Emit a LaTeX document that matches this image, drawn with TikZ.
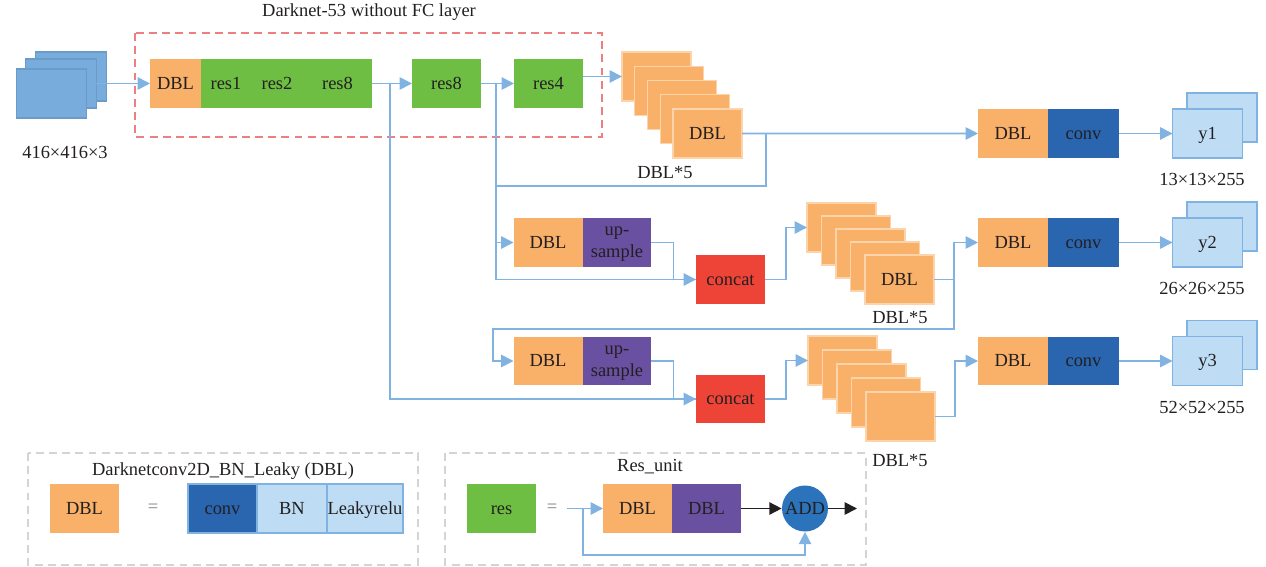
\documentclass[tikz,border=0pt]{standalone}
\usepackage{fontspec}
\setmainfont{Liberation Serif}
\usetikzlibrary{arrows.meta,positioning}
\definecolor{dblorange}{HTML}{F9B068}
\definecolor{resgreen}{HTML}{6EBE44}
\definecolor{uppurple}{HTML}{6A50A0}
\definecolor{catred}{HTML}{EE4437}
\definecolor{convblue}{HTML}{2A65B0}
\definecolor{paleblue}{HTML}{BEDDF4}
\definecolor{lineblue}{HTML}{80B3E2}
\definecolor{inblue}{HTML}{77ACDD}
\definecolor{dashred}{HTML}{EE7F80}
\definecolor{dashgray}{HTML}{D4D4D4}
\definecolor{addblue}{HTML}{2B73BA}
\definecolor{inkgray}{HTML}{231F20}

\begin{document}
\begin{tikzpicture}[x=0.02cm,y=-0.02cm,font=\fontsize{10.5}{12.5}\selectfont,text=inkgray,
  node distance=0pt,
  box/.style={inner sep=0pt,outer sep=0pt,minimum width=1.38cm,minimum height=0.98cm,
    text height=0.66em,text depth=0pt},
  dbl node/.style={box,fill=dblorange},
  res node/.style={box,fill=resgreen},
  up node/.style={box,fill=uppurple,align=center,text height=,text depth=0pt,
    font=\fontsize{10.5}{12.5}\selectfont},
  cat node/.style={box,fill=catred},
  conv node/.style={box,fill=convblue},
  pale node/.style={box,fill=paleblue,draw=lineblue,line width=0.8pt},
  in node/.style={box,fill=inblue,draw=inblue!90!black,line width=0.6pt,minimum width=1.41cm},
  layer node/.style={box,fill=dblorange,draw=dblorange!55!white,line width=0.8pt,anchor=north west},
  flow/.style={draw=lineblue,line width=0.9pt,-{Triangle[length=7pt,width=7pt]}},
  link/.style={draw=lineblue,line width=0.9pt},
  ink/.style={draw=inkgray,line width=0.9pt,-{Triangle[length=7pt,width=7pt]}},
  frame/.style={line width=0.8pt,dash pattern=on 4.5pt off 3pt}]

  \useasboundingbox (0,0) rectangle (1266,567);

  % input image
  \node[in node] (in3) at (71,76.5) {};
  \node[in node] (in2) at (61,83.5) {};
  \node[in node] (in1) at (51.5,93.5) {};
  \node (insize) at (65,152) {416×416×3};

  % backbone
  \draw[frame,dashred] (135,33) rectangle (602,137);
  \node (title) at (369,12) {Darknet-53 without FC layer};
  \node[dbl node,minimum width=1.02cm] (dbl0) at (175.5,83.5) {DBL};
  \node[res node,minimum width=1cm] (res1) [right=of dbl0] {res1};
  \node[res node,minimum width=1.04cm] (res2) [right=of res1] {res2};
  \node[res node] (res8a) [right=of res2] {res8};
  \node[res node] (res8b) at (446.5,83.5) {res8};
  \node[res node] (res4) at (548.5,83.5) {res4};

  % DBL*5 stacks
  \foreach \i in {1,...,5}{
    \node[layer node] (s1-\i) at ({622+12.75*(\i-1)},{52+14.25*(\i-1)}) {};
    \node[layer node] (s2-\i) at ({807+14.5*(\i-1)},{203+13*(\i-1)}) {};
    \node[layer node] (s3-\i) at ({808+14.5*(\i-1)},{336+14*(\i-1)}) {};
  }
  \node[box] (s1-txt) at (s1-5) {DBL};
  \node[box] (s2-txt) at (s2-5) {DBL};
  \node (s1-lbl) at (665,173) {DBL*5};
  \node (s2-lbl) at (900,318) {DBL*5};
  \node (s3-lbl) at (900,461) {DBL*5};

  % upsample branches
  \node[dbl node] (dblu1) at (548,242.5) {DBL};
  \node[up node] (up1) [right=of dblu1] {up-\\sample};
  \node[cat node] (cat1) at (730.5,279.5) {concat};
  \node[dbl node] (dblu2) at (548,361) {DBL};
  \node[up node] (up2) [right=of dblu2] {up-\\sample};
  \node[cat node] (cat2) at (730.5,399) {concat};

  % outputs
  \foreach \k/\yy/\sz in {1/133.5/13, 2/242.5/26, 3/361/52}{
    \node[dbl node,minimum width=1.4cm] (od\k) at (1013,\yy) {DBL};
    \node[conv node,minimum width=1.42cm] (conv\k) [right=of od\k] {conv};
    \node[pale node,minimum width=1.4cm] (yb\k) at (1222,\yy-16) {};
    \node[pale node,minimum width=1.4cm] (y\k) at (1207.5,\yy) {y\k};
    \node (ys\k) at (1202,\yy+46) {\sz×\sz×255};
  }

  % connectors
  \coordinate (ja) at (390,83.5);
  \coordinate (jb) at (496,83.5);
  \coordinate (jc) at (496,186);
  \coordinate (je) at (493,329);
  \draw[flow] (in2.east) -- (dbl0.west);
  \draw[flow] (res8a.east) -- (res8b.west);
  \draw[flow] (res8b.east) -- (res4.west);
  \draw[flow] (res4.east |- s1-1.west) -- (s1-1.west);
  \draw[flow] (ja) |- (cat2.west);
  \draw[flow] (jb) |- (cat1.west);
  \draw[flow] (jb |- dblu1.west) -- (dblu1.west);
  \draw[flow] (s1-5.east) -- (od1.west);
  \draw[link] (s1-5.east) -- ++(24,0) |- (jc);
  \draw[link] (up1.east) -- ++(22,0) |- (cat1.west);
  \draw[flow] (cat1.east) -- ++(21,0) |- (s2-1.west);
  \draw[flow] (s2-5.east) -- ++(20,0) coordinate (jd) |- (od2.west);
  \draw[flow] (jd) |- (je) |- (dblu2.west);
  \draw[link] (up2.east) -- ++(22,0) |- (cat2.west);
  \draw[flow] (cat2.east) -- ++(21,0) |- (s3-1.west);
  \draw[flow] (s3-5.east) -- ++(20,0) |- (od3.west);
  \foreach \k in {1,2,3}
    \draw[flow] (conv\k.east) -- (y\k.west);

  % legend: DBL
  \draw[frame,dashgray] (28,453) rectangle (418,565);
  \node (dbltitle) at (223,471) {Darknetconv2D\_BN\_Leaky (DBL)};
  \node[dbl node] (ldbl) at (84.5,508.5) {DBL};
  \node[text=gray] (leq1) at (153,508.5) {=};
  \node[conv node,draw=lineblue,line width=0.8pt] (lconv) at (222.5,508.5) {conv};
  \node[pale node,minimum width=1.4cm] (lbn) [right=of lconv] {BN};
  \node[pale node,minimum width=1.52cm] (lleaky) [right=of lbn] {Leakyrelu};

  % legend: res unit
  \draw[frame,dashgray] (445,453) rectangle (866,565);
  \node (restitle) at (650,467) {Res\_unit};
  \node[res node] (lres) at (501.5,508.5) {res};
  \node[text=gray] (leq2) at (552,508.5) {=};
  \coordinate (rin) at (567,508.5);
  \coordinate (rj) at (583,508.5);
  \coordinate (rout) at (857,508.5);
  \node[dbl node] (ldbla) at (637.5,508.5) {DBL};
  \node[up node,text height=0.66em] (ldblb) [right=of ldbla] {DBL};
  \node[circle,fill=addblue,minimum size=0.92cm,inner sep=0pt,text height=0.66em,text depth=0pt]
    (add) at (805,508.5) {ADD};
  \draw[flow] (rin) -- (ldbla.west);
  \draw[flow] (rj) -- ++(0,46.5) -| (add.south);
  \draw[ink] (ldblb.east) -- (add.west);
  \draw[ink] (add.east) -- (rout);
\end{tikzpicture}
\end{document}
